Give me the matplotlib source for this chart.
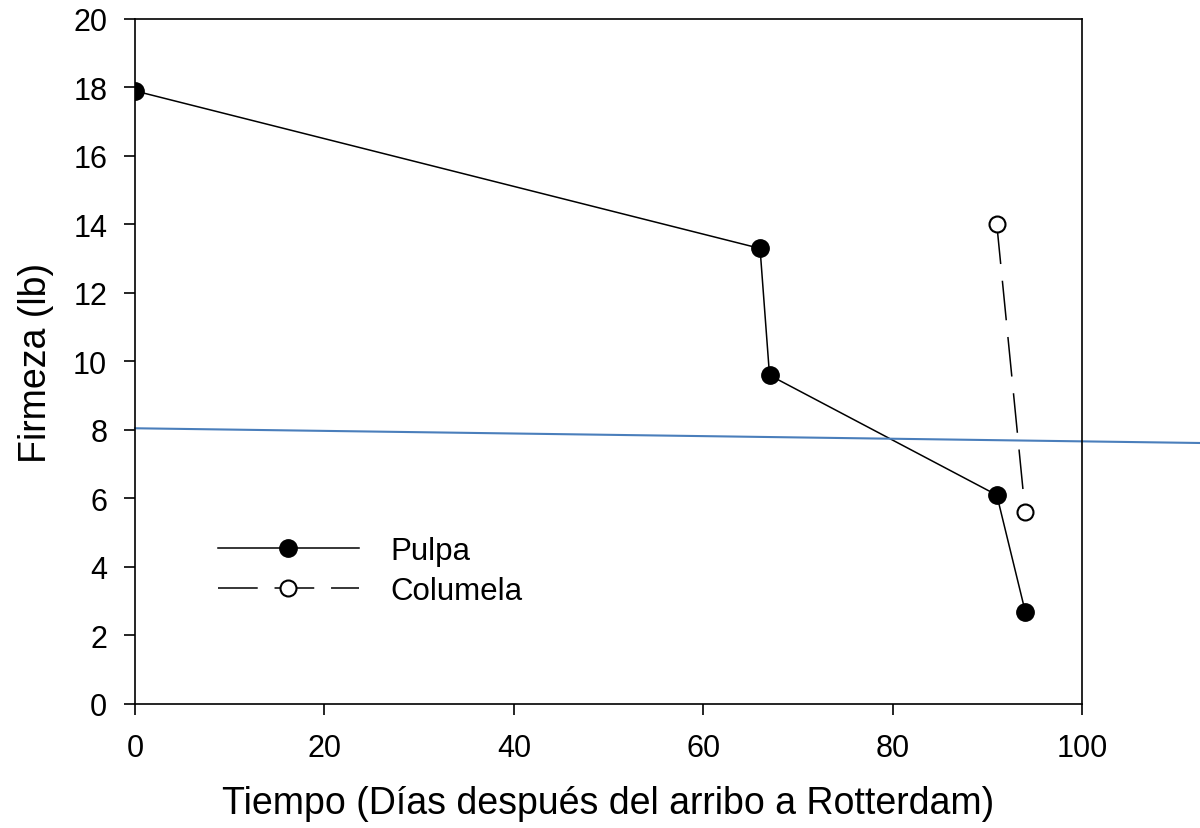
import numpy as np
import matplotlib.pyplot as plt

plt.rcParams['font.family'] = ['Liberation Sans', 'DejaVu Sans']

# Firmeza de pulpa y columela vs. días tras el arribo
dias_pulpa = [0, 66, 67, 91, 94]
firmeza_pulpa = [17.9, 13.3, 9.6, 6.1, 2.7]
dias_columela = [91, 94]
firmeza_columela = [14.0, 5.6]

# línea de referencia (tendencia)
ref_x = [0, 112.5]
ref_y = [8.05, 7.62]

fig = plt.figure(figsize=(12, 8.29), dpi=100)
ax = fig.add_axes([0.1125, 0.1496, 0.7892, 0.8263])

ax.plot(dias_pulpa, firmeza_pulpa, color='black', lw=1.1, marker='o',
        ms=12.5, mfc='black', mec='black', label='Pulpa')
ax.plot(dias_columela, firmeza_columela, color='black', lw=1.1,
        dashes=(26, 11), marker='o', ms=11.5, mfc='white', mec='black',
        mew=1.5, label='Columela')
ax.plot(ref_x, ref_y, color='#4a7ebb', lw=1.5, clip_on=False)

ax.set_xlim(0, 100)
ax.set_ylim(0, 20)
ax.set_xticks(np.arange(0, 101, 20))
ax.set_yticks(np.arange(0, 21, 2))
ax.tick_params(direction='out', length=8, width=1.2, labelsize=22)
ax.tick_params(axis='x', pad=13)
ax.tick_params(axis='y', pad=12)
for s in ax.spines.values():
    s.set_linewidth(1.2)

ax.set_xlabel('Tiempo (Días después del arribo a Rotterdam)', fontsize=27, labelpad=16)
ax.set_ylabel('Firmeza (lb)', fontsize=27, labelpad=14)

ax.legend(loc='upper left', bbox_to_anchor=(0.058, 0.286), frameon=False,
          fontsize=22.5, handlelength=4.5, handletextpad=1.0, labelspacing=0.32)

fig.savefig('out.png', dpi=100)
